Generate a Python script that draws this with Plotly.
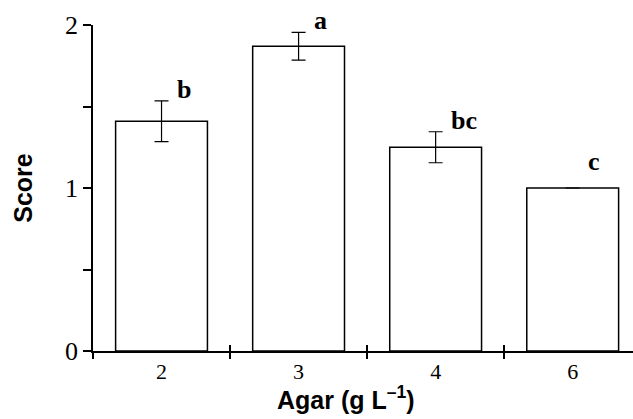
import plotly.graph_objects as go

categories = ["2", "3", "4", "6"]
means = [1.41, 1.87, 1.25, 1.0]
se = [0.125, 0.085, 0.095, None]
letters = ["b", "a", "bc", "c"]
y_ticks = [0, 1, 2]

xr = [-0.5, 3.44]

fig = go.Figure()
fig.add_trace(go.Bar(
    x=categories, y=means, width=0.67,
    marker=dict(color="white", line=dict(color="black", width=1.5)),
    error_y=dict(type="data", array=se, visible=True, color="black", thickness=1.2, width=7),
    showlegend=False, hoverinfo="skip",
))
# helper trace for the inner half of the crossing x ticks
fig.add_trace(go.Scatter(
    x=categories, y=means, xaxis="x2", mode="markers",
    marker=dict(opacity=0, size=1), showlegend=False, hoverinfo="skip",
))

for i, (m, s, l) in enumerate(zip(means, se, letters)):
    fig.add_annotation(
        x=i, y=m + max(s or 0, 0.09), text=l, showarrow=False,
        xanchor="left", yanchor="bottom", xshift=13, yshift=-5,
        font=dict(family="Liberation Serif", size=26, color="black", weight="bold"),
    )

fig.add_annotation(
    xref="paper", yref="paper", x=(346 - 93) / 540, y=-0.088,
    xanchor="center", yanchor="top", showarrow=False,
    text="Agar (g L<sup>\u20131</sup>)",
    font=dict(family="Liberation Sans", size=25, color="black", weight="bold"),
)

fig.update_layout(
    width=633, height=419,
    margin=dict(l=93, r=0, t=25, b=68),
    plot_bgcolor="white", paper_bgcolor="white",
    xaxis=dict(
        type="category", categoryarray=categories, range=xr,
        showline=True, linecolor="black", linewidth=2,
        ticks="outside", tickson="boundaries", ticklen=6, tickwidth=2, tickcolor="black",
        showgrid=False, zeroline=False,
        tickfont=dict(family="Liberation Serif", size=22, color="black"),
    ),
    xaxis2=dict(
        type="category", categoryarray=categories, range=xr,
        overlaying="x", anchor="y", side="bottom",
        showline=False, ticks="inside", tickson="boundaries", ticklen=6, tickwidth=2,
        tickcolor="black", showticklabels=False, showgrid=False, zeroline=False,
    ),
    yaxis=dict(
        range=[0, 2], tickvals=y_ticks,
        showline=True, linecolor="black", linewidth=1.5,
        ticks="outside", ticklen=8, tickwidth=1.5, tickcolor="black",
        minor=dict(dtick=0.5, ticks="outside", ticklen=8, tickwidth=1.5, tickcolor="black"),
        showgrid=False, zeroline=False,
        tickfont=dict(family="Liberation Serif", size=26, color="black"),
        title=dict(text="Score", standoff=25,
                   font=dict(family="Liberation Sans", size=25, color="black", weight="bold")),
    ),
)

fig.write_html("out.html", config={"displayModeBar": False},
               post_script="document.body.style.margin='0';")
